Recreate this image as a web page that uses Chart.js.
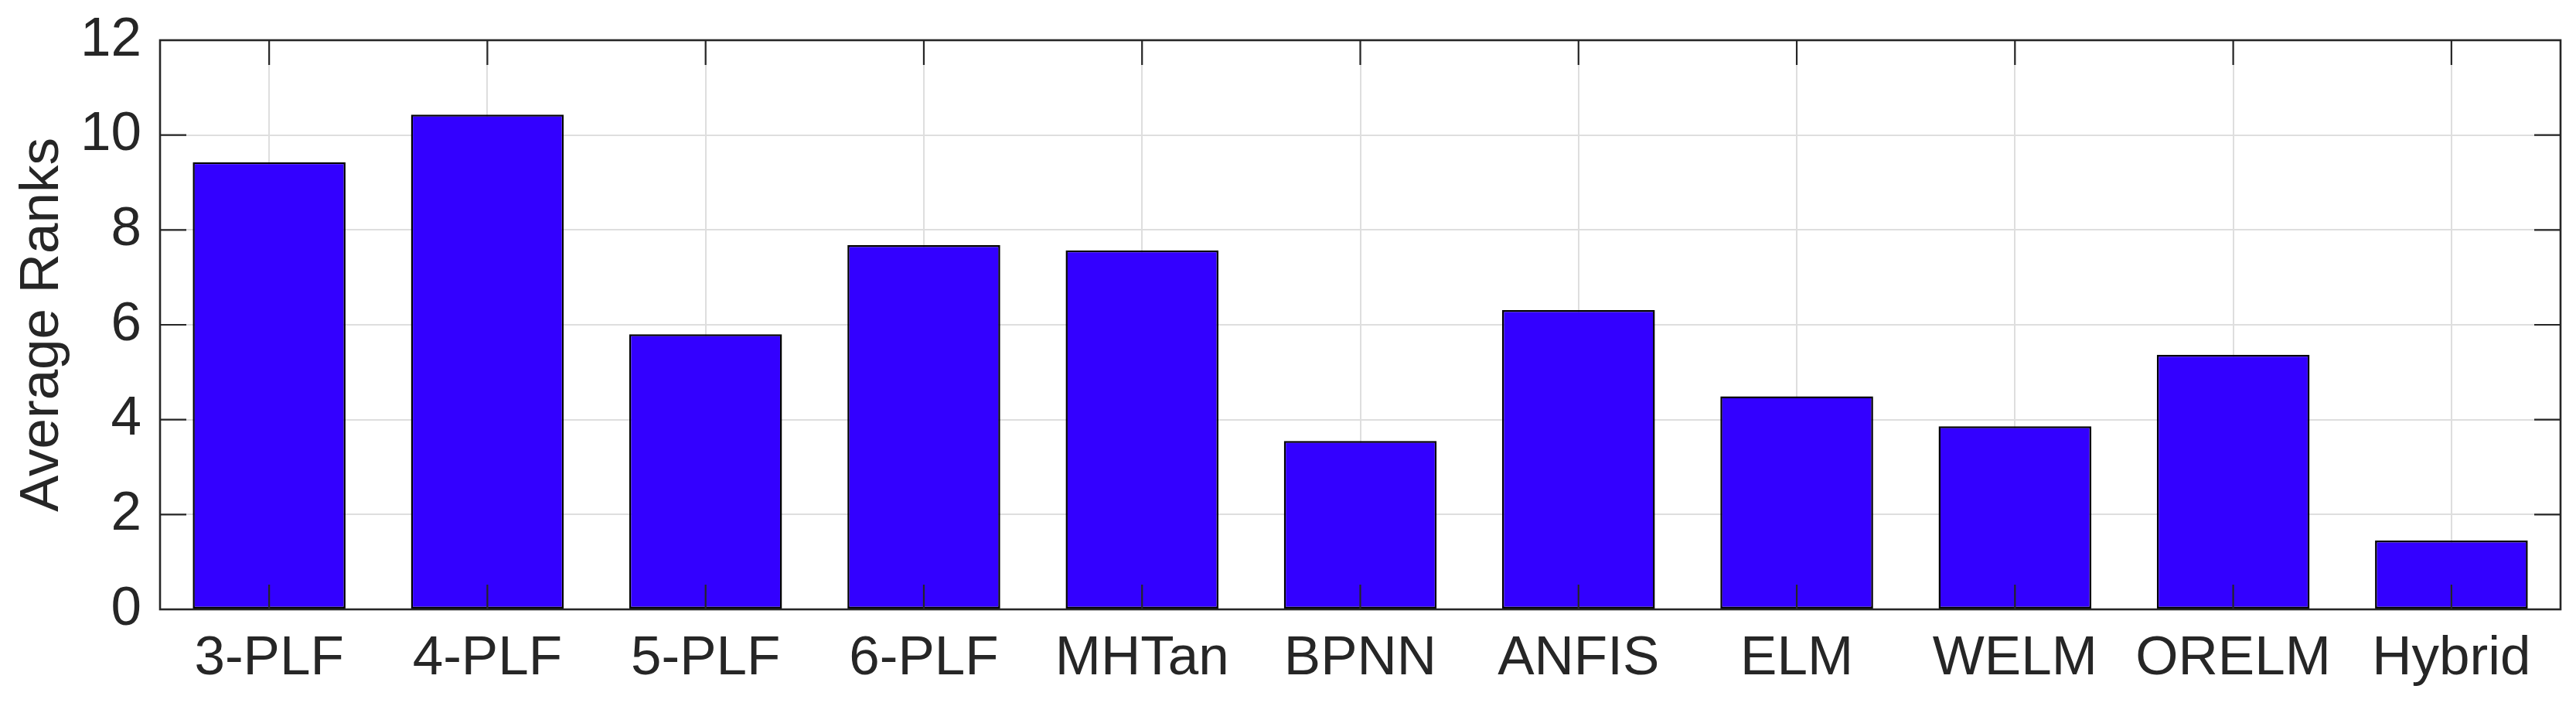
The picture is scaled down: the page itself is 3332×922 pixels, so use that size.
<!DOCTYPE html>
<html>
<head>
<meta charset="utf-8">
<script src="https://cdn.jsdelivr.net/npm/chart.js@4.4.1/dist/chart.umd.min.js"></script>
<style>
  html, body { margin: 0; padding: 0; background: #ffffff; }
  #wrap { width: 3332px; height: 922px; }
</style>
</head>
<body>
<div id="wrap"><canvas id="c" width="3332" height="922"></canvas></div>
<script>
// ---- data ----
const categories = ['3-PLF', '4-PLF', '5-PLF', '6-PLF', 'MHTan', 'BPNN', 'ANFIS', 'ELM', 'WELM', 'ORELM', 'Hybrid'];
const averageRanks = [9.43, 10.43, 5.80, 7.68, 7.57, 3.55, 6.31, 4.49, 3.86, 5.37, 1.45];
const yTickValues = [0, 2, 4, 6, 8, 10, 12];
const yAxisTitle = 'Average Ranks';

// ---- styles ----
const AXIS_COLOR = '#262626';
const GRID_COLOR = '#dedede';
const BAR_COLOR = '#3300ff';
const FONT = "'Liberation Sans', Arial, Helvetica, sans-serif";
const FONT_SIZE = 71;
// target plot box (canvas pixels)
const AREA = { left: 207, top: 52, right: 3312, bottom: 788 };

Chart.defaults.font.family = FONT;
Chart.defaults.color = AXIS_COLOR;

const frameAndTicks = {
  id: 'frameAndTicks',
  afterDatasetsDraw(chart) {
    const { ctx, chartArea: a, scales } = chart;
    ctx.save();
    ctx.strokeStyle = AXIS_COLOR;
    ctx.lineCap = 'butt';
    ctx.lineWidth = 2.2;
    const xs = scales.x, ys = scales.y;
    const tx = 32, ty = 34;
    categories.forEach((c, i) => {
      const px = xs.getPixelForTick(i);
      ctx.beginPath();
      ctx.moveTo(px, a.bottom); ctx.lineTo(px, a.bottom - tx);
      ctx.moveTo(px, a.top); ctx.lineTo(px, a.top + tx);
      ctx.stroke();
    });
    yTickValues.forEach(v => {
      const py = ys.getPixelForValue(v);
      ctx.beginPath();
      ctx.moveTo(a.left, py); ctx.lineTo(a.left + ty, py);
      ctx.moveTo(a.right, py); ctx.lineTo(a.right - ty, py);
      ctx.stroke();
    });
    ctx.lineWidth = 2.6;
    ctx.strokeRect(a.left, a.top, a.right - a.left, a.bottom - a.top);
    ctx.restore();
  }
};

new Chart(document.getElementById('c'), {
  type: 'bar',
  data: {
    labels: categories,
    datasets: [{
      data: averageRanks,
      backgroundColor: BAR_COLOR,
      borderColor: '#000000',
      borderWidth: 2.5,
      borderSkipped: false,
      barPercentage: 0.7,
      categoryPercentage: 1.0
    }]
  },
  options: {
    responsive: false,
    devicePixelRatio: 1,
    animation: false,
    layout: { padding: { top: AREA.top, right: 3332 - AREA.right, left: 0, bottom: 0 } },
    plugins: { legend: { display: false }, tooltip: { enabled: false } },
    scales: {
      x: {
        type: 'category',
        offset: true,
        grid: { offset: false, color: GRID_COLOR, lineWidth: 2, drawTicks: false },
        border: { display: false },
        ticks: {
          font: { size: FONT_SIZE, lineHeight: 1.0 },
          color: AXIS_COLOR,
          padding: 29,
          maxRotation: 0,
          minRotation: 0,
          autoSkip: false
        },
        afterFit: s => { s.height = 922 - AREA.bottom; s.paddingLeft = 0; s.paddingRight = 0; }
      },
      y: {
        min: 0,
        max: 12,
        afterBuildTicks: s => { s.ticks = yTickValues.map(v => ({ value: v })); },
        grid: { color: GRID_COLOR, lineWidth: 2, drawTicks: false },
        border: { display: false },
        ticks: {
          font: { size: FONT_SIZE, lineHeight: 1.0 },
          color: AXIS_COLOR,
          padding: 24
        },
        title: {
          display: true,
          text: yAxisTitle,
          font: { size: FONT_SIZE, lineHeight: 1.0 },
          color: AXIS_COLOR,
          padding: { top: 20, bottom: 0 }
        },
        afterFit: s => { s.width = AREA.left; s.paddingTop = 0; s.paddingBottom = 0; }
      }
    }
  },
  plugins: [frameAndTicks]
});
</script>
</body>
</html>
